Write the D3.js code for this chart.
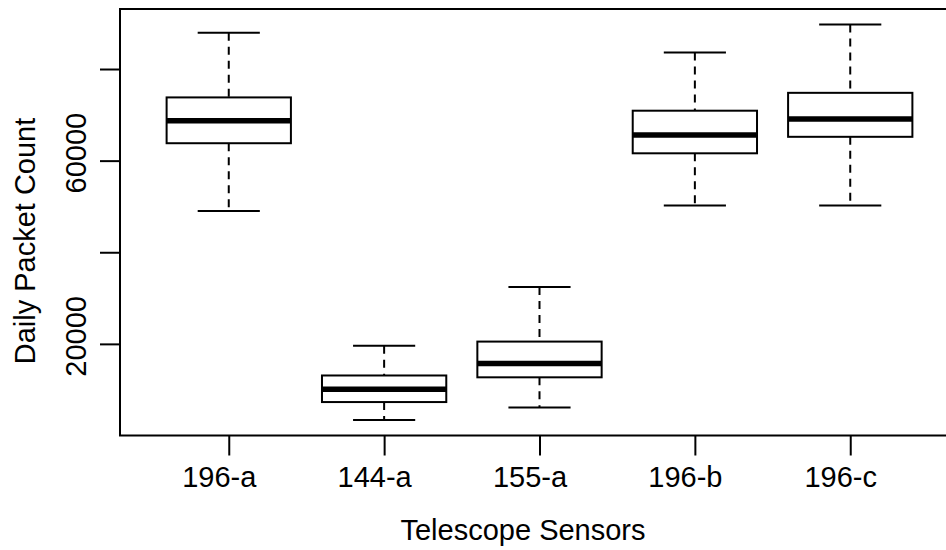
<!DOCTYPE html>
<html>
<head>
<meta charset="utf-8">
<script src="https://cdn.jsdelivr.net/npm/d3@7"></script>
<style>
  html, body { margin: 0; padding: 0; background: #fff; }
  svg { display: block; }
  text { font-family: "Liberation Sans", Arial, sans-serif; fill: #000; }
</style>
</head>
<body>
<svg id="chart" width="946" height="550"></svg>
<script>
// ---- data ----
const categories   = ["196-a", "144-a", "155-a", "196-b", "196-c"];
const whiskerLow   = [49000,  3400,  6100, 50200, 50200];
const quartile1    = [63800,  7300, 12700, 61600, 65200];
const medians      = [68700, 10100, 15700, 65600, 69100];
const quartile3    = [73800, 13100, 20500, 70900, 74800];
const whiskerHigh  = [87900, 19600, 32400, 83600, 89700];
const yTicks       = [20000, 40000, 60000, 80000];
const yTickLabels  = ["20000", "", "60000", ""];
const xTitle = "Telescope Sensors";
const yTitle = "Daily Packet Count";

// ---- layout ----
const plotL = 120, plotR = 959, plotT = 9, plotB = 435.5;
const fontSize = 29;

const svg = d3.select("#chart");

const x = d3.scaleLinear().domain([0.3, 5.7]).range([plotL, plotR]);
const y = d3.scaleLinear().domain([0, 93100]).range([plotB, plotT]);

const boxHalf = 0.4, stapleHalf = 0.2;

const data = categories.map((c, i) => ({
  i: i + 1, c,
  lo: whiskerLow[i], q1: quartile1[i], med: medians[i], q3: quartile3[i], hi: whiskerHigh[i]
}));

const g = svg.append("g");
const boxes = g.selectAll("g.box").data(data).join("g").attr("class", "box");

// whiskers (dashed)
boxes.append("line")
  .attr("x1", d => x(d.i)).attr("x2", d => x(d.i))
  .attr("y1", d => y(d.hi)).attr("y2", d => y(d.q3))
  .attr("stroke", "#000").attr("stroke-width", 2).attr("stroke-dasharray", "8,6");
boxes.append("line")
  .attr("x1", d => x(d.i)).attr("x2", d => x(d.i))
  .attr("y1", d => y(d.q1)).attr("y2", d => y(d.lo))
  .attr("stroke", "#000").attr("stroke-width", 2).attr("stroke-dasharray", "8,6");
// staples
boxes.append("line")
  .attr("x1", d => x(d.i - stapleHalf)).attr("x2", d => x(d.i + stapleHalf))
  .attr("y1", d => y(d.hi)).attr("y2", d => y(d.hi))
  .attr("stroke", "#000").attr("stroke-width", 2);
boxes.append("line")
  .attr("x1", d => x(d.i - stapleHalf)).attr("x2", d => x(d.i + stapleHalf))
  .attr("y1", d => y(d.lo)).attr("y2", d => y(d.lo))
  .attr("stroke", "#000").attr("stroke-width", 2);
// box
boxes.append("rect")
  .attr("x", d => x(d.i - boxHalf))
  .attr("width", d => x(d.i + boxHalf) - x(d.i - boxHalf))
  .attr("y", d => y(d.q3))
  .attr("height", d => y(d.q1) - y(d.q3))
  .attr("fill", "#fff").attr("stroke", "#000").attr("stroke-width", 2);
// median
boxes.append("line")
  .attr("x1", d => x(d.i - boxHalf)).attr("x2", d => x(d.i + boxHalf))
  .attr("y1", d => y(d.med)).attr("y2", d => y(d.med))
  .attr("stroke", "#000").attr("stroke-width", 5.5);

// frame
svg.append("rect")
  .attr("x", plotL).attr("y", plotT)
  .attr("width", plotR - plotL).attr("height", plotB - plotT)
  .attr("fill", "none").attr("stroke", "#000").attr("stroke-width", 2);

// y axis
const yAxis = svg.append("g")
  .attr("transform", `translate(${plotL},0)`)
  .call(d3.axisLeft(y).tickValues(yTicks).tickSize(20)
    .tickFormat((d, i) => yTickLabels[i]));
yAxis.select(".domain").remove();
yAxis.selectAll(".tick line").attr("stroke", "#000").attr("stroke-width", 2);
yAxis.selectAll(".tick text")
  .attr("x", null).attr("dy", null)
  .attr("text-anchor", "middle")
  .attr("transform", "translate(-34.5,-8) rotate(-90)")
  .style("font-size", fontSize + "px")
  .style("font-family", "'Liberation Sans', Arial, sans-serif")
  .attr("fill", "#000");

// x axis
const xAxis = svg.append("g")
  .attr("transform", `translate(0,${plotB})`)
  .call(d3.axisBottom(x).tickValues(data.map(d => d.i)).tickSize(20)
    .tickFormat(v => categories[v - 1]));
xAxis.select(".domain").remove();
xAxis.selectAll(".tick line").attr("stroke", "#000").attr("stroke-width", 2);
xAxis.selectAll(".tick text")
  .attr("x", -10).attr("y", 51).attr("dy", null)
  .style("font-size", fontSize + "px")
  .style("font-family", "'Liberation Sans', Arial, sans-serif")
  .attr("fill", "#000");

// titles
svg.append("text")
  .attr("x", 523).attr("y", 540)
  .attr("text-anchor", "middle")
  .style("font-size", fontSize + "px")
  .text(xTitle);
svg.append("text")
  .attr("transform", `translate(35,241) rotate(-90)`)
  .attr("text-anchor", "middle")
  .style("font-size", fontSize + "px")
  .text(yTitle);
</script>
</body>
</html>
